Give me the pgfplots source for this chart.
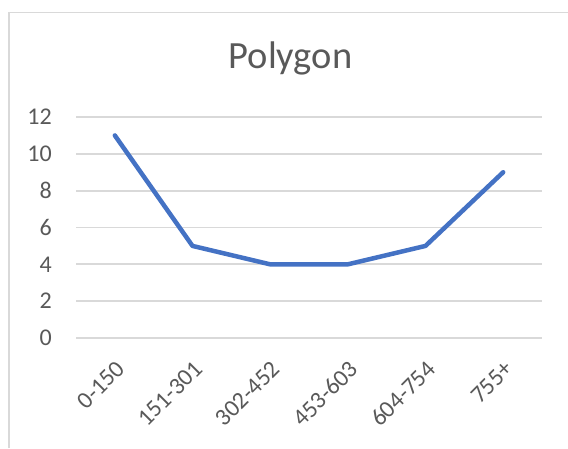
\documentclass[border=0pt]{standalone}
\usepackage{fontspec}
\setmainfont{Carlito}
\usepackage{pgfplots}
\pgfplotsset{compat=1.18}
\definecolor{gridgray}{HTML}{D9D9D9}
\definecolor{txtgray}{HTML}{595959}
\definecolor{xlblue}{HTML}{4472C4}
\begin{document}
\begin{tikzpicture}[x=1pt,y=1pt]
\path[use as bounding box] (0,0) rectangle (568,448);
\draw[gridgray, line width=1.8pt] (9,0) -- (9,435.5) -- (568,435.5);
\node[anchor=base, text=txtgray, font=\fontsize{38.5}{46}\selectfont, inner sep=0pt] at (290.5,379) {Polygon};
\begin{axis}[
  at={(76pt,110pt)}, anchor=south west,
  scale only axis, width=466pt, height=221pt,
  xmin=-0.5, xmax=5.5, ymin=0, ymax=12,
  xtick={0,1,2,3,4,5},
  xticklabels={0-150,151-301,302-452,453-603,604-754,755+},
  ytick={0,2,4,6,8,10,12},
  ymajorgrids, grid style={gridgray, line width=1.8pt},
  axis line style={draw=none},
  major tick length=0pt,
  tick label style={text=txtgray, font=\fontsize{24}{29}\selectfont, inner sep=0pt},
  /pgf/number format/assume math mode=true,
  yticklabel style={anchor=east, xshift=-24pt},
  xticklabel style={xshift=6pt, yshift=-27pt, rotate=45, anchor=east},
  clip=false,
]
\addplot[xlblue, line width=4.5pt, line cap=round, line join=round] coordinates {
  (0,11) (1,5) (2,4) (3,4) (4,5) (5,9)
};
\end{axis}
\end{tikzpicture}
\end{document}
